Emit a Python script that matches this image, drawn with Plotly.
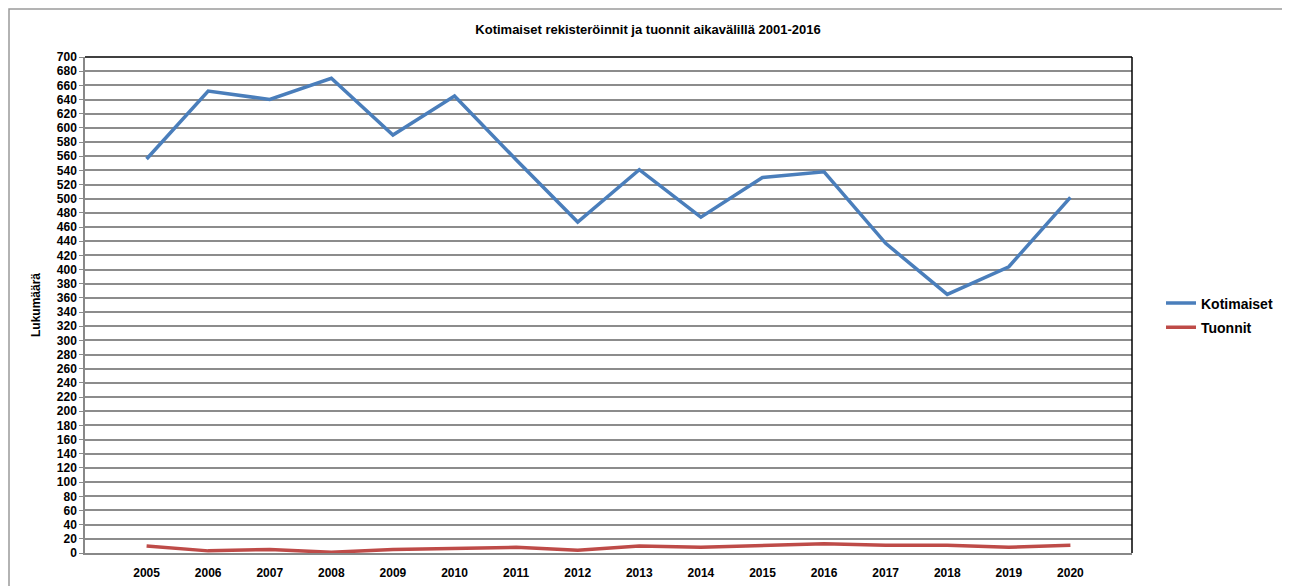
import plotly.graph_objects as go

years = [str(y) for y in range(2005, 2021)]
kotimaiset = [556, 652, 640, 670, 590, 645, 555, 467, 541, 474, 530, 538, 437, 365, 404, 502]
tuonnit = [10, 3, 5, 1, 5, 7, 8, 4, 10, 8, 10, 13, 11, 11, 8, 11]
y_ticks = list(range(0, 701, 20))

W, H = 1280, 578
L, R, T, B = 77, 156, 49, 33
PW, PH = W - L - R, H - T - B

fig = go.Figure()
fig.add_trace(go.Scatter(x=years, y=kotimaiset, mode="lines", name="Kotimaiset",
                         legendgroup="a", line=dict(color="#4a7ebb", width=3.5)))
fig.add_trace(go.Scatter(x=years, y=tuonnit, mode="lines", name="Tuonnit",
                         legendgroup="b", line=dict(color="#be4b48", width=3.5)))

font_family = "Liberation Sans, Arial, sans-serif"
fig.update_layout(
    width=W, height=H,
    margin=dict(l=L, r=R, t=T, b=B, autoexpand=False),
    paper_bgcolor="white", plot_bgcolor="white",
    title=dict(text="<b>Kotimaiset rekisteröinnit ja tuonnit aikavälillä 2001-2016</b>",
               x=0.5, xref="container", xanchor="center",
               y=1 - 21 / H, yref="container", yanchor="middle",
               font=dict(family=font_family, size=13, color="black")),
    legend=dict(xref="container", yref="container", x=1153 / W, y=1 - 307.5 / H,
                xanchor="left", yanchor="middle",
                font=dict(family=font_family, size=14, color="black", weight="bold"),
                tracegroupgap=3, itemwidth=30, bgcolor="rgba(0,0,0,0)"),
    showlegend=True,
)
fig.update_xaxes(type="category", range=[-1, 16], showgrid=False, automargin=False,
                 tickfont=dict(family=font_family, size=12, color="black", weight="bold"),
                 ticks="", ticklabelstandoff=8,
                 showline=True, linecolor="#888888", linewidth=1.5,
                 mirror=False, zeroline=False)
fig.update_yaxes(range=[0, 700], tickvals=y_ticks, ticktext=[str(v) for v in y_ticks],
                 automargin=False,
                 showgrid=True, gridcolor="#8c8c8c", gridwidth=1.5,
                 tickfont=dict(family=font_family, size=12, color="black", weight="bold"),
                 ticks="outside", ticklen=4, tickcolor="#888888",
                 showline=True, linecolor="#888888", linewidth=1.5, zeroline=False,
                 title=dict(text="<b>Lukumäärä</b>", standoff=14,
                            font=dict(family=font_family, size=12, color="black")))
# top and right plot borders
fig.add_shape(type="line", xref="paper", yref="paper", x0=0, x1=1, y0=1, y1=1,
              line=dict(color="black", width=1.5))
fig.add_shape(type="line", xref="paper", yref="paper", x0=1, x1=1, y0=0, y1=1,
              line=dict(color="black", width=1.5))
# outer chart frame (bottom edge runs off the page, as in the reference)
fig.add_shape(type="rect", xref="paper", yref="paper",
              x0=-(L - 1) / PW, x1=(W - L - 1) / PW,
              y0=-(B + 20) / PH, y1=1 + (T - 1) / PH,
              line=dict(color="#9a9a9a", width=1.5), layer="below")

fig.write_html("out.html")
